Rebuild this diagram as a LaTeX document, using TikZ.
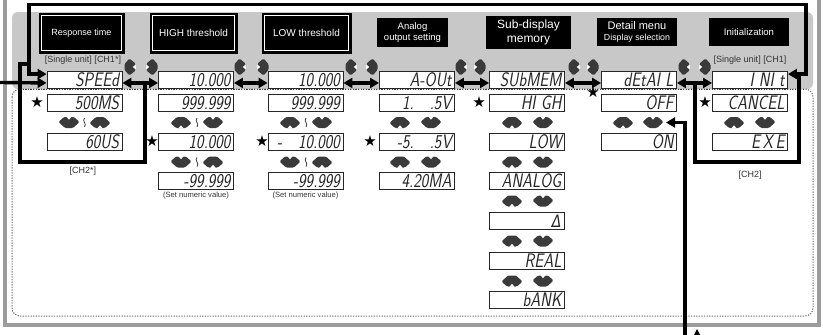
\documentclass[tikz,border=0pt]{standalone}
\usepackage{fontspec}
\setmainfont{Liberation Sans}
\newfontfamily\djv{DejaVu Sans}
\usetikzlibrary{arrows.meta}
\definecolor{panel}{HTML}{C8C8C8}
\definecolor{framegray}{HTML}{9C9C9C}
\definecolor{btngray}{HTML}{3A3A3A}
\definecolor{lcdline}{HTML}{262626}
\definecolor{dotgray}{HTML}{707070}
\definecolor{labgray}{HTML}{333333}
\newcommand\segtxt{\fontsize{16}{16}\selectfont\sffamily\slshape}
\newcommand\sg[1]{\scalebox{1}[1.22]{#1}}
\tikzset{
  lcd/.style={draw=lcdline, line width=0.9pt, fill=white, minimum height=17pt,
    text width=69pt, inner xsep=3pt, inner ysep=0pt, align=right,
    font=\segtxt, text=lcdline},
  titleplain/.style={fill=black, text=white, inner sep=0pt, align=center},
  titleframed/.style={titleplain, draw=black, line width=0.6pt,
    path picture={\draw[white, line width=1pt]
      ([shift={(2.3pt,2.3pt)}]path picture bounding box.south west) rectangle
      ([shift={(-2.3pt,-2.3pt)}]path picture bounding box.north east);}},
  conn/.style={line width=3.4pt, black, line join=miter},
  starmark/.style={font=\djv\fontsize{15}{15}\selectfont, inner sep=0pt},
  lab/.style={font=\fontsize{9}{10}\selectfont, text=labgray, inner sep=0pt},
  smalllab/.style={font=\fontsize{7.6}{8}\selectfont, text=labgray, inner sep=0pt},
  btnup/.pic={\fill[btngray, rounded corners=1.2pt] (-10.5,0.5) -- (-4,-5.5) -- (4,-5.5) -- (10.5,0.5) -- (5,5.5) -- (-5,5.5) -- cycle;
    \fill[white] (-2.6,5.8) -- (2.6,5.8) -- (0,2.8) -- cycle;},
  btndown/.pic={\fill[btngray, rounded corners=1.2pt] (-10.5,-0.5) -- (-5,-5.5) -- (5,-5.5) -- (10.5,-0.5) -- (4,5.5) -- (-4,5.5) -- cycle;
    \fill[white] (-2.6,-5.8) -- (2.6,-5.8) -- (0,-2.8) -- cycle;},
  btnleft/.pic={\fill[btngray, rounded corners=1.2pt] (-0.5,-8.5) -- (5.5,-3.5) -- (5.5,3.5) -- (-0.5,8.5) -- (-5.5,3) -- (-5.5,-3) -- cycle;
    \fill[white] (5.8,-2.6) -- (5.8,2.6) -- (2.8,0) -- cycle;},
  btnright/.pic={\fill[btngray, rounded corners=1.2pt] (0.5,-8.5) -- (5.5,-3) -- (5.5,3) -- (0.5,8.5) -- (-5.5,3.5) -- (-5.5,-3.5) -- cycle;
    \fill[white] (-5.8,-2.6) -- (-5.8,2.6) -- (-2.8,0) -- cycle;},
  wavemark/.pic={\draw[line width=0.8pt, btngray] (0,-4.5) .. controls (-2.8,-1.5) and (2.8,1.5) .. (0,4.5);}
}
\begin{document}
\begin{tikzpicture}[x=1pt,y=-1pt,>={Triangle[length=9pt,width=10pt]}]
\useasboundingbox (0,0) rectangle (823,335);
\fill[white] (0,0) rectangle (823,335);
% frame and panels
\draw[framegray, line width=4.5pt] (5,0) -- (5,325) -- (819,325) -- (819,0);
\fill[panel, rounded corners=6pt] (12,12) rectangle (813,89);
\draw[dotgray, line width=1pt, dash pattern=on 1.3pt off 1.3pt, rounded corners=8pt] (12,89) rectangle (813,316);
\draw[black!75, line width=1pt, dash pattern=on 1.3pt off 1.3pt] (20,89) -- (805,89);

% title boxes
\node[titleframed, minimum width=85pt, minimum height=40pt, font=\fontsize{9}{10}\selectfont] (tresp) at (81.5,33) {Response time};
\node[titleframed, minimum width=87pt, minimum height=40pt, font=\fontsize{10}{11}\selectfont] (thigh) at (193.5,33) {HIGH threshold};
\node[titleframed, minimum width=89pt, minimum height=40pt, font=\fontsize{10}{11}\selectfont] (tlow) at (306.5,33) {LOW threshold};
\node[titleplain, minimum width=71pt, minimum height=29pt, font=\fontsize{9.5}{11}\selectfont] (tana) at (412.5,32.5) {Analog\\output setting};
\node[titleplain, minimum width=85pt, minimum height=33pt, font=\fontsize{12}{14}\selectfont] (tsub) at (528.5,32.5) {Sub-display\\memory};
\node[titleplain, minimum width=80pt, minimum height=28pt] (tdet) at (637,32) {{\fontsize{11}{12}\selectfont Detail menu}\\[-1pt]{\fontsize{8.8}{10}\selectfont Display selection}};
\node[titleplain, minimum width=80pt, minimum height=28pt, font=\fontsize{9.6}{11}\selectfont] (tini) at (749,32) {Initialization};

\node[lab] (l1) at (83,60) {[Single unit] [CH1*]};
\node[lab] (l7) at (750,60) {[Single unit] [CH1]};

% row 1
\node[lcd] (speed) at (84.5,80) {\sg{SPEEd}};
\node[lcd] (high) at (196,80) {\sg{10.000}};
\node[lcd] (low) at (305.5,80) {\sg{10.000}};
\node[lcd] (aout) at (417,80) {\sg{A-OUt}};
\node[lcd] (submem) at (527,80) {\sg{SUbMEM}};
\node[lcd] (detail) at (639,80) {\sg{dEtAI L}};
\node[lcd] (init) at (750,80) {\sg{I NI t}};

% column 1
\node[lcd] (c1a) at (84.5,103) {\sg{500MS}};
\node[lcd] (c1b) at (84.5,142) {\sg{60US}};
\node[starmark] (s1) at (37,102) {★};
\pic at (69,122.5) {btndown}; \pic at (84.5,122.5) {wavemark}; \pic at (100,122.5) {btnup};
\node[lab] (ch2s) at (83,171) {[CH2*]};

% column 2
\node[lcd] (c2a) at (196,103) {\sg{999.999}};
\node[lcd] (c2b) at (196,142) {\sg{10.000}};
\node[lcd] (c2c) at (196,181) {\sg{-99.999}};
\node[starmark] (s2) at (152,141) {★};
\pic at (181,122.5) {btnup}; \pic at (197,122.5) {wavemark}; \pic at (213,122.5) {btndown};
\pic at (181,162) {btndown}; \pic at (197,162) {wavemark}; \pic at (213,162) {btnup};
\node[smalllab] (n2) at (196,196) {(Set numeric value)};

% column 3
\node[lcd] (c3a) at (305.5,103) {\sg{999.999}};
\node[lcd] (c3b) at (305.5,142) {\sg{-\quad10.000}};
\node[lcd] (c3c) at (305.5,181) {\sg{-99.999}};
\node[starmark] (s3) at (262,141) {★};
\pic at (290,122.5) {btnup}; \pic at (306,122.5) {wavemark}; \pic at (322,122.5) {btndown};
\pic at (290,162) {btndown}; \pic at (306,162) {wavemark}; \pic at (322,162) {btnup};
\node[smalllab] (n3) at (305.5,196) {(Set numeric value)};

% column 4
\node[lcd] (c4a) at (417,103) {\sg{1.\quad.5V}};
\node[lcd] (c4b) at (417,142) {\sg{-5.\quad.5V}};
\node[lcd] (c4c) at (417,181) {\sg{4.20MA}};
\node[starmark] (s4) at (370,141) {★};
\pic at (400,122.5) {btnup}; \pic at (431,122.5) {btndown};
\pic at (400,162) {btnup}; \pic at (431,162) {btndown};

% column 5
\node[lcd] (c5a) at (527,103) {\sg{HI GH}};
\node[lcd] (c5b) at (527,142) {\sg{LOW}};
\node[lcd] (c5c) at (527,181) {\sg{ANALOG}};
\node[lcd] (c5d) at (527,221) {\sg{\djv\itshape\fontsize{14}{14}\selectfont Δ}};
\node[lcd] (c5e) at (527,261) {\sg{REAL}};
\node[lcd] (c5f) at (527,300) {\sg{bANK}};
\node[starmark] (s5) at (479,102) {★};
\pic at (512,122.5) {btnup}; \pic at (543,122.5) {btndown};
\pic at (512,162) {btnup}; \pic at (543,162) {btndown};
\pic at (512,201) {btnup}; \pic at (543,201) {btndown};
\pic at (512,241) {btnup}; \pic at (543,241) {btndown};
\pic at (512,281) {btnup}; \pic at (543,281) {btndown};

% column 6
\node[lcd] (c6a) at (639,103) {\sg{OFF}};
\node[lcd] (c6b) at (639,142) {\sg{ON}};
\node[starmark] (s6) at (593,92) {★};
\pic at (623,122.5) {btnup}; \pic at (653,122.5) {btndown};

% column 7
\node[lcd] (c7a) at (750,103) {\sg{CANCEL}};
\node[lcd] (c7b) at (750,142) {\sg{E\,X\,E}};
\node[starmark] (s7) at (705,102) {★};
\pic at (734,122.5) {btnup}; \pic at (765,122.5) {btndown};
\node[lab] (ch2) at (750,175) {[CH2]};

% left/right buttons on row 1
\pic at (130,67) {btnleft}; \pic at (152,67) {btnright};
\pic at (240,67) {btnleft}; \pic at (263,67) {btnright};
\pic at (351,67) {btnleft}; \pic at (372,67) {btnright};
\pic at (461,67) {btnleft}; \pic at (480,67) {btnright};
\pic at (574,67) {btnleft}; \pic at (593,67) {btnright};
\pic at (684,67) {btnleft}; \pic at (705,67) {btnright};

% connectors between row-1 displays
\draw[conn,<->] ([yshift=6pt]speed.south east) -- ([yshift=6pt]high.south west);
\draw[conn,<->] ([yshift=6pt]high.south east) -- ([yshift=6pt]low.south west);
\draw[conn,<->] ([yshift=6pt]low.south east) -- ([yshift=6pt]aout.south west);
\draw[conn,<->] ([yshift=6pt]aout.south east) -- ([yshift=6pt]submem.south west);
\draw[conn,<->] ([yshift=6pt]submem.south east) -- ([yshift=6pt]detail.south west);
\draw[conn,<->] ([yshift=6pt]detail.south east) -- ([yshift=6pt]init.south west);

% top loop
\coordinate (tl) at (29,4.5);
\coordinate (tr) at (806,4.5);
\draw[conn,<->] ([yshift=-3pt]speed.north west) -| (tl) -- (tr) |- ([yshift=-3pt]init.north east);

% entry arrow
\coordinate (entry) at (0,82.5);
\draw[conn,->] (entry) -- ([yshift=6pt]speed.south west);

% CH2* frame
\coordinate (f1a) at (29,64);
\coordinate (f1b) at (20,64);
\coordinate (f1c) at (20,162);
\coordinate (f1d) at (145,162);
\coordinate (f1e) at (145,82.5);
\draw[conn] (f1a) -- (f1b) -- (f1c) -- (f1d) -- (f1e);

% CH2 frame
\coordinate (f7a) at (799,74.5);
\coordinate (f7b) at (799,162);
\coordinate (f7c) at (695,162);
\coordinate (f7d) at (695,82.5);
\draw[conn] (f7a) -- (f7b) -- (f7c) -- (f7d);

% arrow from below into OFF/ON buttons
\coordinate (bot) at (685,335);
\coordinate (onin) at (666,122.5);
\draw[conn,->] (bot) |- (onin);

% small arrowhead at bottom
\fill[black] (694,335) -- (697,329) -- (700,335) -- cycle;
\end{tikzpicture}
\end{document}
